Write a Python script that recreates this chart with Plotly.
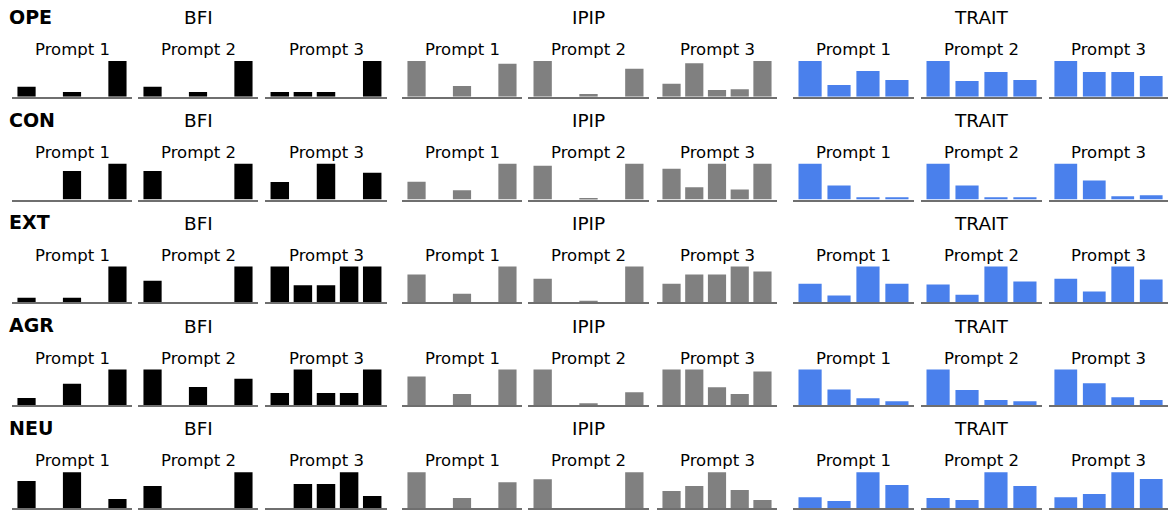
import plotly.graph_objects as go

# ---------------- data ----------------
traits = ["OPE", "CON", "EXT", "AGR", "NEU"]
tests = ["BFI", "IPIP", "TRAIT"]
prompts = ["Prompt 1", "Prompt 2", "Prompt 3"]
test_colors = ["#000000", "#808080", "#4a80ec"]

# relative heights (max of each panel = 1); rows = traits, inner lists = prompts
bfi = [
    [[0.28, 0, 0.13, 0, 1], [0.28, 0, 0.13, 0, 1], [0.13, 0.13, 0.13, 0, 1]],
    [[0, 0, 0.80, 0, 1], [0.80, 0, 0, 0, 1], [0.49, 0, 1, 0, 0.75]],
    [[0.13, 0, 0.13, 0, 1], [0.60, 0, 0, 0, 1], [1, 0.48, 0.48, 1, 1]],
    [[0.20, 0, 0.60, 0, 1], [1, 0, 0.51, 0, 0.74], [0.34, 1, 0.34, 0.34, 1]],
    [[0.75, 0, 1, 0, 0.25], [0.61, 0, 0, 0, 1], [0, 0.67, 0.67, 1, 0.33]],
]
ipip = [
    [[1, 0, 0.30, 0, 0.92], [1, 0, 0.075, 0, 0.78], [0.36, 0.94, 0.19, 0.21, 1]],
    [[0.50, 0, 0.26, 0, 1], [0.945, 0, 0.04, 0, 1], [0.86, 0.34, 1, 0.28, 1]],
    [[0.78, 0, 0.24, 0, 1], [0.66, 0, 0.03, 0, 1], [0.52, 0.78, 0.78, 1, 0.86]],
    [[0.80, 0, 0.31, 0, 1], [1, 0, 0.05, 0, 0.36], [1, 1, 0.50, 0.31, 0.94]],
    [[1, 0, 0.28, 0, 0.72], [0.80, 0, 0, 0, 1], [0.47, 0.61, 1, 0.50, 0.22]],
]
trait = [
    [[1, 0.33, 0.72, 0.47], [1, 0.44, 0.69, 0.47], [1, 0.69, 0.69, 0.58]],
    [[1, 0.39, 0.06, 0.06], [1, 0.39, 0.06, 0.06], [1, 0.53, 0.09, 0.12]],
    [[0.52, 0.19, 1, 0.52], [0.50, 0.21, 1, 0.58], [0.66, 0.30, 1, 0.64]],
    [[1, 0.44, 0.19, 0.11], [1, 0.42, 0.14, 0.11], [1, 0.61, 0.22, 0.14]],
    [[0.30, 0.19, 1, 0.64], [0.28, 0.22, 1, 0.61], [0.30, 0.39, 1, 0.81]],
]
all_data = [bfi, ipip, trait]

# ---------------- layout geometry (pixels) ----------------
W, H = 1169, 510
col_px = [
    [(12, 132), (138, 258), (265, 387)],
    [(402, 522), (528, 649), (657, 777)],
    [(793, 914), (921, 1042), (1049, 1168)],
]
row_bottom0 = 96.7
row_step = 102.8
ax_h = 37.5

FONT = "DejaVu Sans, Verdana, sans-serif"

fig = go.Figure()
layout = {}
annotations = []
k = 0
for r, tname in enumerate(traits):
    bottom = row_bottom0 + r * row_step
    top = bottom - ax_h
    ydom = [1 - bottom / H, 1 - top / H]
    for g, test in enumerate(tests):
        data = all_data[g]
        for p, prm in enumerate(prompts):
            k += 1
            x0, x1 = col_px[g][p]
            vals = data[r][p]
            n = len(vals)
            xs = list(range(n))
            xa = "x" if k == 1 else f"x{k}"
            ya = "y" if k == 1 else f"y{k}"
            fig.add_trace(go.Bar(
                x=xs, y=vals, width=0.8,
                marker=dict(color=test_colors[g], line=dict(width=0)),
                xaxis=xa, yaxis=ya, showlegend=False, hoverinfo="skip",
            ))
            pad = 0.05 * (n - 1 + 0.8)
            layout["xaxis" if k == 1 else f"xaxis{k}"] = dict(
                domain=[x0 / W, x1 / W], anchor=ya,
                range=[-0.4 - pad, n - 1 + 0.4 + pad],
                showline=True, linecolor="#6f6f6f", linewidth=1.6,
                showticklabels=False, ticks="", showgrid=False, zeroline=False,
                fixedrange=True,
            )
            layout["yaxis" if k == 1 else f"yaxis{k}"] = dict(
                domain=ydom, anchor=xa, range=[0, 1.05],
                showline=False, showticklabels=False, ticks="", showgrid=False,
                zeroline=False, fixedrange=True,
            )
            # panel title
            annotations.append(dict(
                text=prm, x=(x0 + x1) / 2 / W, y=1 - (top - 9.5) / H,
                xref="paper", yref="paper", xanchor="center", yanchor="middle",
                showarrow=False, font=dict(family=FONT, size=16.5, color="black"),
            ))
        # group title
        gx0, gx1 = col_px[g][1]
        annotations.append(dict(
            text=test, x=(gx0 + gx1) / 2 / W, y=1 - (top - 41.5) / H,
            xref="paper", yref="paper", xanchor="center", yanchor="middle",
            showarrow=False, font=dict(family=FONT, size=18.5, color="black"),
        ))
    # trait label
    annotations.append(dict(
        text=f"<b>{tname}</b>", x=7 / W, y=1 - (top - 42.5) / H,
        xref="paper", yref="paper", xanchor="left", yanchor="middle",
        showarrow=False, font=dict(family=FONT, size=19, color="black"),
    ))

fig.update_layout(
    width=W, height=H, margin=dict(l=0, r=0, t=0, b=0),
    paper_bgcolor="white", plot_bgcolor="white",
    bargap=0.2, annotations=annotations, **layout,
)
fig.write_html(
    "out.html",
    config={"displayModeBar": False},
    post_script="document.body.style.margin='0';document.body.style.overflow='hidden';",
)
